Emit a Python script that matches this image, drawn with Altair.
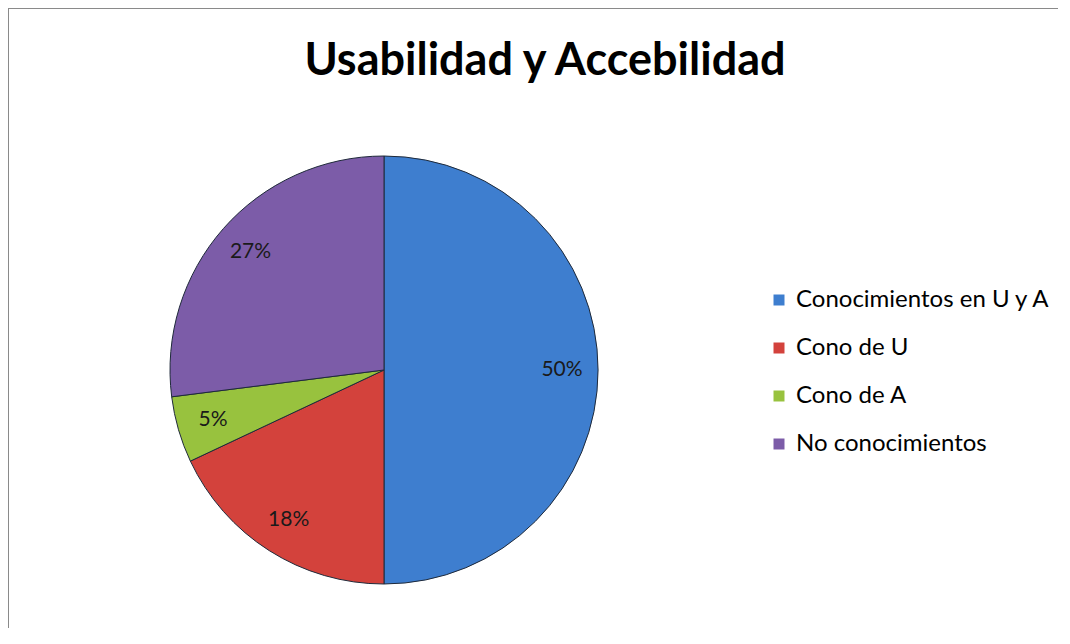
import altair as alt
import pandas as pd

categories = ["Conocimientos en U y A", "Cono de U", "Cono de A", "No conocimientos"]
values = [50, 18, 5, 27]
labels = ["50%", "18%", "5%", "27%"]
colors = ["#3E7ECF", "#D3423C", "#98C23E", "#7C5CA8"]
title_text = "Usabilidad y Accebilidad"

df = pd.DataFrame({"cat": categories, "val": values, "lab": labels, "idx": list(range(len(categories)))})

W, H = 1050, 620
CX, CY, R = 376, 362, 214
FONT = "Lato"

base = alt.Chart(df).encode(
    theta=alt.Theta("val:Q", stack=True),
    order=alt.Order("idx:Q"),
)

pie = base.mark_arc(outerRadius=R, stroke="#1f2a3a", strokeWidth=1).encode(
    x=alt.value(CX), y=alt.value(CY),
    color=alt.Color(
        "cat:N",
        scale=alt.Scale(domain=categories, range=colors),
        sort=categories,
        legend=alt.Legend(
            title=None, orient="none", legendX=759, legendY=280,
            symbolType="square", symbolSize=121, symbolStrokeWidth=0,
            labelFont=FONT, labelFontSize=24, labelColor="#000000", labelLimit=0,
            rowPadding=24, labelOffset=5, symbolOpacity=1,
        ),
    ),
)

text = base.mark_text(radius=178, font=FONT, fontSize=21, color="#1a1a1a").encode(
    x=alt.value(CX), y=alt.value(CY), text="lab:N"
)

title = alt.Chart(pd.DataFrame({"t": [title_text]})).mark_text(
    font=FONT, fontSize=45, fontWeight="bold", color="#000000", baseline="alphabetic"
).encode(x=alt.value(537), y=alt.value(67), text="t:N")

border = alt.Chart(pd.DataFrame({"a": [0]})).mark_rule(color="#8a8a8a", strokeWidth=2)
border_top = border.encode(x=alt.value(0), x2=alt.value(W + 20), y=alt.value(0))
border_left = border.encode(x=alt.value(0), y=alt.value(0), y2=alt.value(H + 20))

chart = alt.layer(pie, text, title, border_top, border_left).properties(
    width=W, height=H, padding=0, autosize=alt.AutoSizeParams(type="none"),
    background="white",
).configure_view(stroke="transparent", strokeWidth=0)

chart.save("out.html", embed_options={"renderer": "svg", "actions": False})
